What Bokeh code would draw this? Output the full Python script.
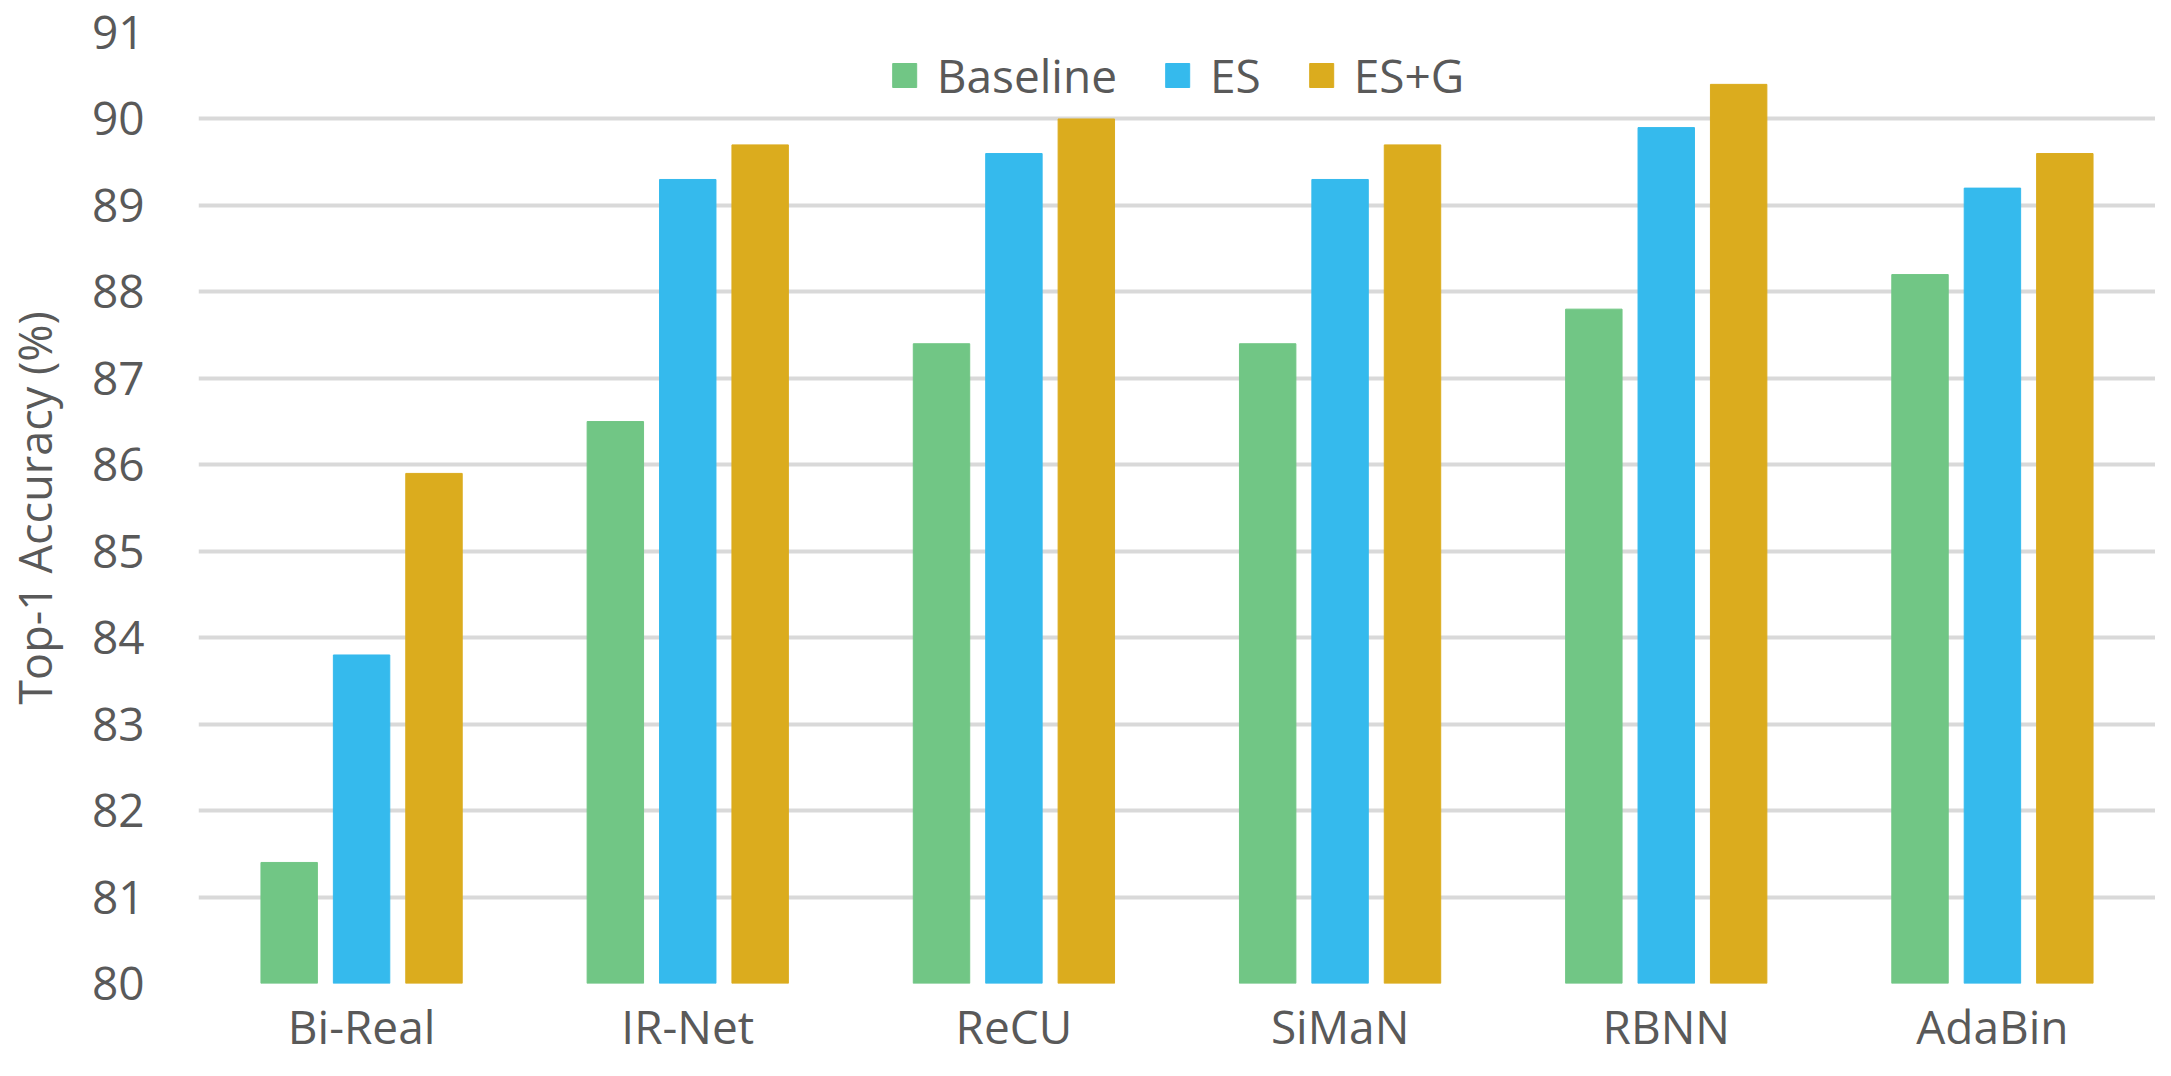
from bokeh.plotting import figure
from bokeh.models import ColumnDataSource, FactorRange, Range1d, FixedTicker, Legend
from bokeh.transform import dodge
from bokeh.embed import file_html
from bokeh.resources import INLINE

categories = ["Bi-Real", "IR-Net", "ReCU", "SiMaN", "RBNN", "AdaBin"]
baseline = [81.4, 86.5, 87.4, 87.4, 87.8, 88.2]
es = [83.8, 89.3, 89.6, 89.3, 89.9, 89.2]
es_g = [85.9, 89.7, 90.0, 89.7, 90.4, 89.6]
y_ticks = [80, 81, 82, 83, 84, 85, 86, 87, 88, 89, 90, 91]

FONT = "Open Sans"
TXT = "#595959"

src = ColumnDataSource(dict(cat=categories, baseline=baseline, es=es, es_g=es_g))

p = figure(x_range=FactorRange(*categories), y_range=Range1d(80, 91),
           width=2155, height=1060, output_backend="svg", toolbar_location=None,
           min_border_left=185, min_border_right=0, min_border_top=32, min_border_bottom=77)
p.x_range.range_padding = 0

series = [("baseline", "Baseline", "#71C685", -0.222),
          ("es", "ES", "#35BAED", 0.0),
          ("es_g", "ES+G", "#DBAC1E", 0.222)]
items = []
for col, label, color, off in series:
    r = p.vbar(x=dodge("cat", off, range=p.x_range), top=col, bottom=80, width=0.173,
               source=src, fill_color=color, line_color=color)
    items.append((label, [r]))

legend = Legend(items=items, orientation="horizontal", location="top_center",
                glyph_width=30, glyph_height=30, label_standoff=18, spacing=45,
                padding=0, margin=12, border_line_color=None, background_fill_alpha=0,
                label_text_font=FONT, label_text_font_size="46px", label_text_color=TXT)
p.add_layout(legend, "center")

p.outline_line_color = None
p.xgrid.grid_line_color = None
p.ygrid.grid_line_color = "#D9D9D9"
p.ygrid.grid_line_width = 4
p.yaxis.ticker = FixedTicker(ticks=y_ticks)

for ax in (p.xaxis, p.yaxis):
    ax.axis_line_color = None
    ax.major_tick_line_color = None
    ax.minor_tick_line_color = None
    ax.major_tick_out = 0
    ax.major_tick_in = 0
    ax.major_label_text_font = FONT
    ax.major_label_text_font_size = "46px"
    ax.major_label_text_color = TXT

p.xaxis.major_label_standoff = 11
p.yaxis.major_label_standoff = 54
p.yaxis.axis_label = "Top-1 Accuracy (%)"
p.yaxis.axis_label_text_font = FONT
p.yaxis.axis_label_text_font_size = "45px"
p.yaxis.axis_label_text_font_style = "normal"
p.yaxis.axis_label_text_color = TXT
p.yaxis.axis_label_standoff = 24

open("out.html", "w").write(file_html(p, INLINE))
